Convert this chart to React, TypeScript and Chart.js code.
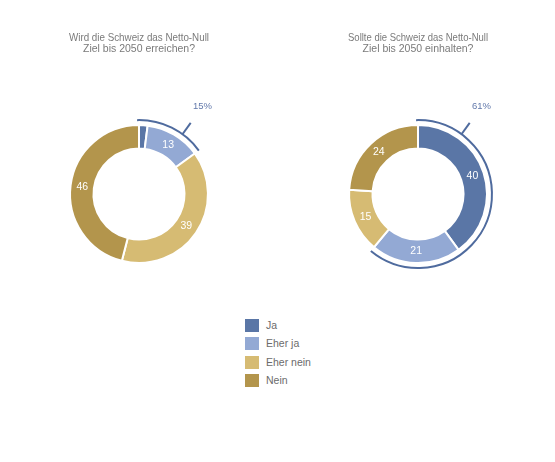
import React, { useEffect, useRef } from "react";
import { Chart, registerables } from "chart.js";

Chart.register(...registerables);

const CATEGORIES = ["Ja", "Eher ja", "Eher nein", "Nein"];
const COLORS = ["#5a76a6", "#93a9d4", "#d6bb73", "#b3954c"];
const VALUES_REACH = [2, 13, 39, 46];
const VALUES_KEEP = [40, 21, 15, 24];
const TITLE_REACH = ["Wird die Schweiz das Netto-Null", "Ziel bis 2050 erreichen?"];
const TITLE_KEEP = ["Sollte die Schweiz das Netto-Null", "Ziel bis 2050 einhalten?"];
const BRACKET_COLOR = "#4f6b9e";
const FONT = "'Liberation Sans', Arial, sans-serif";

function makeOverlay(values: number[]) {
  const yesShare = values[0] + values[1];
  return {
    id: "overlay",
    afterDatasetsDraw(chart: any) {
      const meta = chart.getDatasetMeta(0);
      const arc0 = meta.data[0];
      const { x, y, outerRadius } = arc0.getProps(["x", "y", "outerRadius"], true);
      const ctx = chart.ctx;
      ctx.save();
      // value labels
      ctx.fillStyle = "#ffffff";
      ctx.font = `10.5px ${FONT}`;
      ctx.textAlign = "center";
      ctx.textBaseline = "middle";
      meta.data.forEach((el: any, i: number) => {
        if (values[i] < 5) return;
        const p = el.tooltipPosition(true);
        ctx.fillText(String(values[i]), p.x, p.y);
      });
      // bracket arc
      const total = values.reduce((a, b) => a + b, 0);
      const r = outerRadius + 5;
      const start = -Math.PI / 2 - (1.5 * Math.PI) / 180;
      const end = -Math.PI / 2 + (yesShare / total) * Math.PI * 2;
      ctx.strokeStyle = BRACKET_COLOR;
      ctx.lineWidth = 2;
      ctx.beginPath();
      ctx.arc(x, y, r, start, end);
      ctx.stroke();
      // tick
      const a = (36 * Math.PI) / 180;
      ctx.beginPath();
      ctx.moveTo(x + r * Math.sin(a), y - r * Math.cos(a));
      ctx.lineTo(x + (r + 14) * Math.sin(a), y - (r + 14) * Math.cos(a));
      ctx.stroke();
      // label
      ctx.fillStyle = "#6279ab";
      ctx.font = `9.5px ${FONT}`;
      const lr = r + 34;
      ctx.fillText(`${Math.round((yesShare / total) * 100)}%`, x + lr * Math.sin(a), y - lr * Math.cos(a));
      ctx.restore();
    },
  };
}

function Donut({ values, title, left }: { values: number[]; title: string[]; left: number }) {
  const ref = useRef<HTMLCanvasElement | null>(null);
  useEffect(() => {
    if (!ref.current) return;
    const chart = new Chart(ref.current, {
      type: "doughnut",
      data: {
        labels: CATEGORIES,
        datasets: [
          {
            data: values,
            backgroundColor: COLORS,
            borderColor: "#ffffff",
            borderWidth: 2,
            hoverOffset: 0,
          },
        ],
      },
      options: {
        animation: false,
        responsive: false,
        cutout: "66%",
        layout: { padding: { top: 0, left: 50, right: 50, bottom: 16 } },
        plugins: {
          legend: { display: false },
          tooltip: { enabled: false },
          title: {
            display: true,
            text: title,
            color: "#7a7a7a",
            font: { family: FONT, size: 10.5, weight: "normal", lineHeight: 1.1 },
            padding: { top: 32, bottom: 69 },
          },
        },
      },
      plugins: [makeOverlay(values)],
    } as any);
    return () => chart.destroy();
  }, [values, title]);
  return (
    <canvas
      ref={ref}
      width={240}
      height={280}
      style={{ position: "absolute", left, top: 0, width: 240, height: 280 }}
    />
  );
}

export default function App() {
  return (
    <div
      style={{
        position: "absolute",
        left: 0,
        top: 0,
        width: 555,
        height: 462,
        background: "#ffffff",
        fontFamily: FONT,
      }}
    >
      <Donut values={VALUES_REACH} title={TITLE_REACH} left={19} />
      <Donut values={VALUES_KEEP} title={TITLE_KEEP} left={298} />
      <div style={{ position: "absolute", left: 245, top: 316 }}>
        {CATEGORIES.map((c, i) => (
          <div key={c} style={{ display: "flex", alignItems: "center", height: 18.5 }}>
            <div style={{ width: 14, height: 13, background: COLORS[i], marginRight: 7 }} />
            <span style={{ fontSize: 10.5, color: "#6b6b6b", lineHeight: "13px" }}>{c}</span>
          </div>
        ))}
      </div>
    </div>
  );
}
